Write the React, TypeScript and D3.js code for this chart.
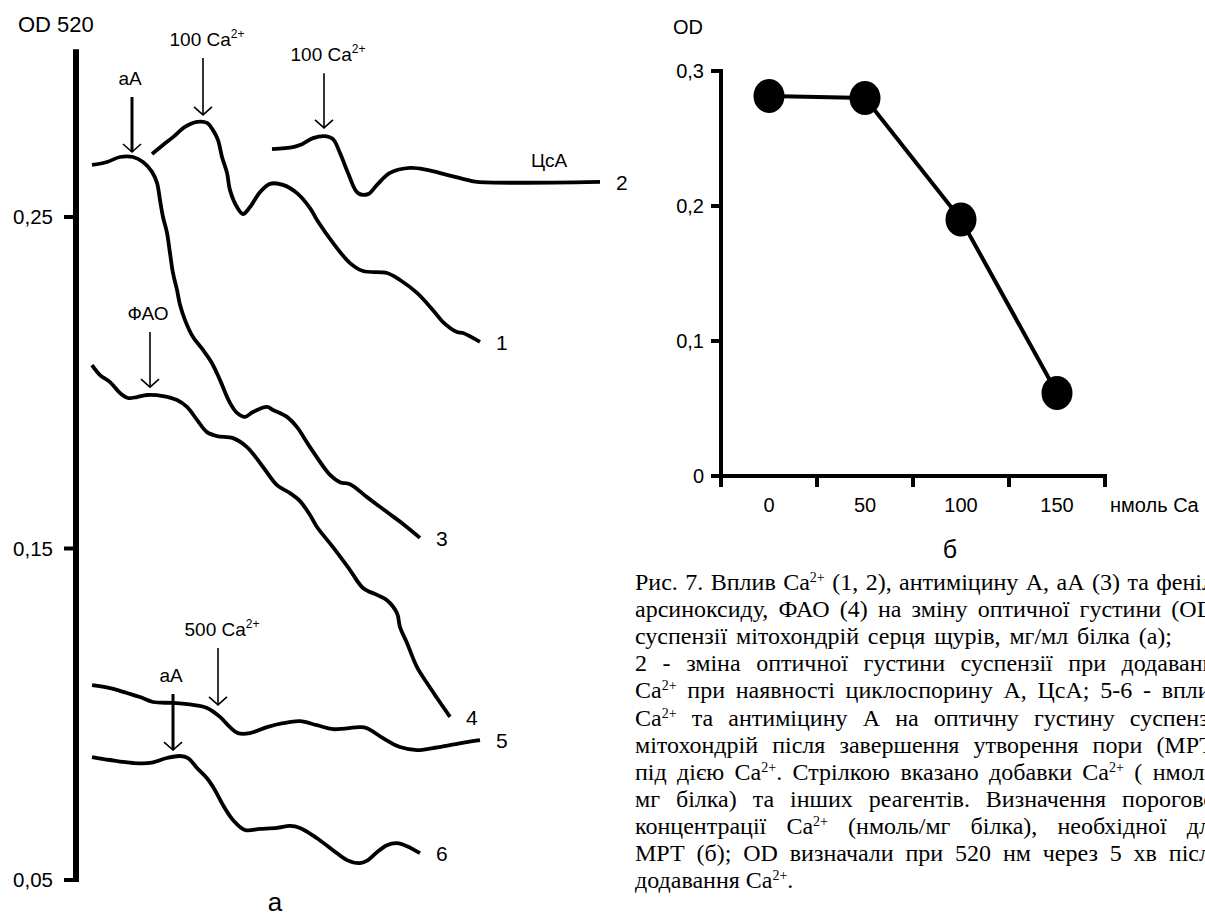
import React, { useLayoutEffect, useRef } from 'react';
import * as d3 from 'd3';

// panel a: OD520 traces, [time (arb. units), OD]
const curve1 = [[76,0.2690],[87,0.2717],[97,0.2741],[109,0.2772],[121,0.2787],[131,0.2784],[137,0.2762],[142,0.2732],[146,0.2681],[151,0.2633],[154,0.2581],[161,0.2530],[167,0.2509],[174,0.2530],[184,0.2575],[194,0.2600],[207,0.2597],[221,0.2572],[234,0.2527],[241,0.2491],[257,0.2422],[274,0.2361],[287,0.2337],[311,0.2331],[324,0.2310],[341,0.2271],[357,0.2219],[367,0.2183],[381,0.2153],[387,0.2150],[404,0.2123]];
const curve2 = [[196,0.2705],[217,0.2711],[224,0.2717],[237,0.2738],[249,0.2744],[257,0.2735],[264,0.2693],[272,0.2633],[282,0.2572],[292,0.2569],[301,0.2597],[314,0.2633],[334,0.2648],[351,0.2642],[371,0.2627],[391,0.2612],[401,0.2606],[524,0.2606]];
const curve3 = [[16,0.2657],[31,0.2666],[44,0.2681],[57,0.2681],[67,0.2666],[76,0.2636],[81,0.2603],[84,0.2551],[87,0.2500],[91,0.2452],[94,0.2391],[97,0.2331],[101,0.2280],[104,0.2235],[109,0.2189],[117,0.2138],[127,0.2099],[136,0.2059],[144,0.2008],[154,0.1939],[161,0.1909],[169,0.1897],[177,0.1912],[191,0.1927],[197,0.1918],[211,0.1897],[221,0.1866],[234,0.1806],[254,0.1722],[264,0.1700],[274,0.1694],[291,0.1655],[311,0.1610],[327,0.1574],[344,0.1532]];
const curve4 = [[16,0.2053],[24,0.2023],[34,0.2002],[44,0.1969],[52,0.1954],[61,0.1957],[71,0.1963],[87,0.1960],[101,0.1948],[111,0.1927],[121,0.1888],[131,0.1851],[141,0.1839],[157,0.1833],[171,0.1806],[187,0.1746],[201,0.1691],[214,0.1667],[224,0.1643],[234,0.1601],[241,0.1565],[257,0.1504],[274,0.1435],[287,0.1381],[301,0.1360],[311,0.1344],[321,0.1305],[324,0.1263],[331,0.1215],[341,0.1142],[351,0.1094],[361,0.1049],[374,0.0992]];
const curve5 = [[16,0.1088],[34,0.1079],[51,0.1064],[64,0.1052],[77,0.1037],[97,0.1034],[117,0.1028],[131,0.1019],[144,0.0992],[154,0.0961],[162,0.0943],[174,0.0943],[191,0.0961],[207,0.0973],[224,0.0979],[241,0.0967],[257,0.0955],[284,0.0961],[291,0.0958],[307,0.0928],[324,0.0901],[341,0.0892],[357,0.0898],[374,0.0907],[391,0.0916],[404,0.0922]];
const curve6 = [[16,0.0871],[34,0.0862],[57,0.0853],[74,0.0853],[91,0.0868],[104,0.0874],[112,0.0868],[121,0.0838],[131,0.0807],[139,0.0771],[147,0.0726],[157,0.0681],[169,0.0651],[184,0.0654],[201,0.0657],[214,0.0663],[224,0.0657],[241,0.0626],[257,0.0590],[271,0.0560],[284,0.0551],[292,0.0560],[301,0.0584],[311,0.0605],[321,0.0611],[331,0.0602],[344,0.0581]];
const traces = [curve1, curve2, curve3, curve4, curve5, curve6];
const traceNames = ['1', '2', '3', '4', '5', '6'];
const odTicksA = [0.25, 0.15, 0.05];
const odTickLabelsA = ['0,25', '0,15', '0,05'];

// additions marked with arrows: time, OD at arrow top, OD at tip
const additions = [
  { label: 'aA', t: 56, top: 0.2862, tip: 0.2696, bold: true },
  { label: '100 Ca^2+', t: 127, top: 0.2980, tip: 0.2808, bold: false },
  { label: '100 Ca^2+', t: 248, top: 0.2934, tip: 0.2769, bold: false },
  { label: 'ФАО', t: 74, top: 0.2153, tip: 0.1987, bold: false },
  { label: '500 Ca^2+', t: 142, top: 0.1200, tip: 0.1028, bold: false },
  { label: 'aA', t: 97, top: 0.1061, tip: 0.0892, bold: true },
];
const csaLabel = { label: 'ЦсА', t: 473, od: 0.2672 };

// panel б: threshold Ca2+ dose
const doses = ['0', '50', '100', '150'];
const odValues = [0.2815, 0.280, 0.190, 0.0615];
const odTicksB = [0, 0.1, 0.2, 0.3];
const odTickLabelsB = ['0', '0,1', '0,2', '0,3'];

const caption = [
  'Рис. 7. Вплив Ca^2+ (1, 2), антиміцину А, аА (3) та феніл-',
  'арсиноксиду, ФАО (4) на зміну оптичної густини (OD)',
  'суспензії мітохондрій серця щурів, мг/мл білка (а);',
  '2 - зміна оптичної густини суспензії при додаванні',
  'Ca^2+ при наявності циклоспорину А, ЦсА; 5-6 - вплив',
  'Ca^2+ та антиміцину А на оптичну густину суспензії',
  'мітохондрій після завершення утворення пори (МРТ)',
  'під дією Ca^2+. Стрілкою вказано добавки Ca^2+ ( нмоль/',
  'мг білка) та інших реагентів. Визначення порогової',
  'концентрації Ca^2+ (нмоль/мг білка), необхідної для',
  'МРТ (б); OD визначали при 520 нм через 5 хв після',
  'додавання Ca^2+.',
];
// justified width of each caption line (0 = normal spacing)
const captionWidths = [587, 587, 537, 587, 587, 587, 587, 587, 587, 587, 587, 0];

const SANS = '"Liberation Sans", Arial, sans-serif';
const SERIF = '"Liberation Serif", "Times New Roman", serif';
const CAP_X = 635;
const CAP_SIZE = 24;

function rich(str: string, supSize: number, shift: number) {
  const parts = str.split('^2+');
  const out: any[] = [];
  parts.forEach((p, i) => {
    if (i > 0) out.push(<tspan key={'s' + i} dy={-shift} fontSize={supSize}>2+</tspan>);
    out.push(<tspan key={'p' + i} dy={i > 0 ? shift : 0}>{p}</tspan>);
  });
  return out;
}

// caption line -> one tspan per word piece, superscripts raised
function captionSpans(line: string) {
  const words = line.split(' ').filter(Boolean);
  const spans: any[] = [];
  let raised = false;
  words.forEach((word, wi) => {
    const segs: { t: string; sup: boolean }[] = [];
    word.split('^2+').forEach((p, i) => {
      if (i > 0) segs.push({ t: '2+', sup: true });
      if (p) segs.push({ t: p, sup: false });
    });
    segs.forEach((s, si) => {
      let dy = 0;
      if (s.sup && !raised) { dy = -8; raised = true; }
      else if (!s.sup && raised) { dy = 8; raised = false; }
      spans.push(
        <tspan key={wi + '-' + si} data-word={wi} data-first={si === 0 ? '1' : undefined}
          dy={dy || undefined} fontSize={s.sup ? 14 : undefined}>{s.t}</tspan>
      );
    });
  });
  return spans;
}

export default function App() {
  const W = 1205, H = 920;
  const capRefs = useRef<(SVGTextElement | null)[]>([]);

  // justify caption: place each word so the line spans its width
  useLayoutEffect(() => {
    const justify = () => {
      capRefs.current.forEach((el, i) => {
        if (!el) return;
        const spans = Array.from(el.querySelectorAll('tspan')) as SVGTSpanElement[];
        const widths: number[] = [];
        spans.forEach(sp => {
          const w = Number(sp.getAttribute('data-word'));
          widths[w] = (widths[w] || 0) + sp.getComputedTextLength();
        });
        const total = widths.reduce((a, b) => a + b, 0);
        const n = widths.length;
        const gap = captionWidths[i] && n > 1 ? (captionWidths[i] - total) / (n - 1) : CAP_SIZE * 0.25;
        let x = CAP_X;
        spans.forEach(sp => {
          if (sp.getAttribute('data-first')) {
            sp.setAttribute('x', String(x));
            x += widths[Number(sp.getAttribute('data-word'))] + gap;
          }
        });
      });
    };
    justify();
    if ((document as any).fonts && (document as any).fonts.ready) (document as any).fonts.ready.then(justify);
  }, []);

  // panel a scales
  const xA = d3.scaleLinear().domain([0, 600]).range([76, 676]);
  const yA = d3.scaleLinear().domain([0.05, 0.25]).range([880, 217]);
  const traceLine = d3.line<number[]>()
    .x(d => xA(d[0]))
    .y(d => yA(d[1]))
    .curve(d3.curveCatmullRom.alpha(0.5));

  // panel б scales
  const xB = d3.scaleBand<string>().domain(doses).range([721, 1105]);
  const yB = d3.scaleLinear().domain([0, 0.3]).range([476, 71]);
  const doseLine = d3.line<number>()
    .x((d, i) => (xB(doses[i]) as number) + xB.bandwidth() / 2)
    .y(d => yB(d));

  return (
    <svg width={W} height={H} style={{ position: 'absolute', left: 0, top: 0, background: '#fff' }}>
      <rect width={W} height={H} fill="#fff" />

      {/* panel a */}
      <g fontFamily={SANS} fill="#000">
        <text x={18} y={32} fontSize={22}>OD 520</text>
        <line x1={xA(0)} x2={xA(0)} y1={yA(0.3006)} y2={yA(0.05) + 2} stroke="#000" strokeWidth={6} />
        {odTicksA.map((v, i) => (
          <g key={v}>
            <line x1={xA(0) - 12} x2={xA(0)} y1={yA(v)} y2={yA(v)} stroke="#000" strokeWidth={4} />
            <text x={53} y={yA(v) + 7} fontSize={20.5} textAnchor="end">{odTickLabelsA[i]}</text>
          </g>
        ))}
        {traces.map((c, i) => (
          <g key={i}>
            <path d={traceLine(c as number[][]) || ''} fill="none" stroke="#000" strokeWidth={3.8} strokeLinejoin="round" />
            <text x={xA(c[c.length - 1][0]) + 16} y={yA(c[c.length - 1][1]) + 8} fontSize={21}>{traceNames[i]}</text>
          </g>
        ))}
        {additions.map((a, i) => {
          const x = xA(a.t), y1 = yA(a.top), y2 = yA(a.tip);
          const sw = a.bold ? 3 : 1.6;
          return (
            <g key={i} stroke="#000" strokeWidth={sw} fill="none">
              <line x1={x} x2={x} y1={y1} y2={y2} />
              <polyline points={`${x - 9},${y2 - 8} ${x},${y2} ${x + 9},${y2 - 8}`} strokeWidth={1.6} />
              <text x={x + (a.label.includes('^') ? 4 : -2)} y={y1 - 12} fontSize={19} textAnchor="middle" stroke="none" fill="#000">
                {rich(a.label, 12, 8)}
              </text>
            </g>
          );
        })}
        <text x={xA(csaLabel.t)} y={yA(csaLabel.od) + 7} fontSize={19} textAnchor="middle">{csaLabel.label}</text>
        <text x={275} y={911} fontSize={26} textAnchor="middle">а</text>
      </g>

      {/* panel б */}
      <g fontFamily={SANS} fill="#000">
        <text x={673} y={34} fontSize={20}>OD</text>
        <line x1={721} x2={721} y1={yB(0.3) - 2} y2={yB(0) + 11} stroke="#000" strokeWidth={4} />
        <line x1={719} x2={1107} y1={yB(0)} y2={yB(0)} stroke="#000" strokeWidth={4} />
        {odTicksB.map((v, i) => (
          <g key={v}>
            <line x1={711} x2={721} y1={yB(v)} y2={yB(v)} stroke="#000" strokeWidth={4} />
            <text x={704} y={yB(v) + 7} fontSize={20} textAnchor="end">{odTickLabelsB[i]}</text>
          </g>
        ))}
        {doses.map(d => {
          const x1 = (xB(d) as number) + xB.bandwidth();
          const xc = (xB(d) as number) + xB.bandwidth() / 2;
          return (
            <g key={d}>
              <line x1={x1} x2={x1} y1={yB(0)} y2={yB(0) + 11} stroke="#000" strokeWidth={4} />
              <text x={xc} y={yB(0) + 36} fontSize={20} textAnchor="middle">{d}</text>
            </g>
          );
        })}
        <text x={1110} y={yB(0) + 36} fontSize={20}>нмоль Ca</text>
        <path d={doseLine(odValues) || ''} fill="none" stroke="#000" strokeWidth={4} />
        {odValues.map((v, i) => (
          <ellipse key={i} cx={(xB(doses[i]) as number) + xB.bandwidth() / 2} cy={yB(v)} rx={15.5} ry={17} fill="#000" />
        ))}
        <text x={950} y={558} fontSize={25} textAnchor="middle">б</text>
      </g>

      {/* caption */}
      <g fontFamily={SERIF} fontSize={CAP_SIZE} fill="#000">
        {caption.map((line, i) => (
          <text key={i} ref={el => { capRefs.current[i] = el; }} x={CAP_X} y={590 + i * 27.1}>
            {captionSpans(line)}
          </text>
        ))}
      </g>
    </svg>
  );
}
